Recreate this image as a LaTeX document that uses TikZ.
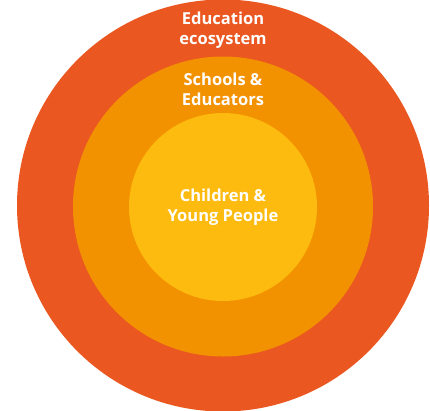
\documentclass[tikz,border=0pt]{standalone}
\usepackage{fontspec}
\setmainfont{Open Sans}[BoldFont={* Bold}]
\definecolor{ringouter}{RGB}{234,87,32}
\definecolor{ringmid}{RGB}{243,146,0}
\definecolor{ringinner}{RGB}{252,187,14}
\begin{document}
\begin{tikzpicture}[x=1pt,y=-1pt,
  ring/.style={circle,draw=none,inner sep=0pt,minimum size=#1},
  lbl/.style={text=white,font=\bfseries\fontsize{16.5}{20}\selectfont,align=center}]
\useasboundingbox (0,0) rectangle (430,410);
\node[ring=412pt,fill=ringouter] (outer) at (223,205.5) {};
\node[ring=300pt,fill=ringmid] (mid) at (223,206.5) {};
\node[ring=188pt,fill=ringinner] (inner) at (223,207) {};
\node[lbl] (t1) at (223,30) {Education\\ecosystem};
\node[lbl] (t2) at (223,89) {Schools \&\\Educators};
\node[lbl] (t3) at (223,207) {Children \&\\Young People};
\end{tikzpicture}
\end{document}
